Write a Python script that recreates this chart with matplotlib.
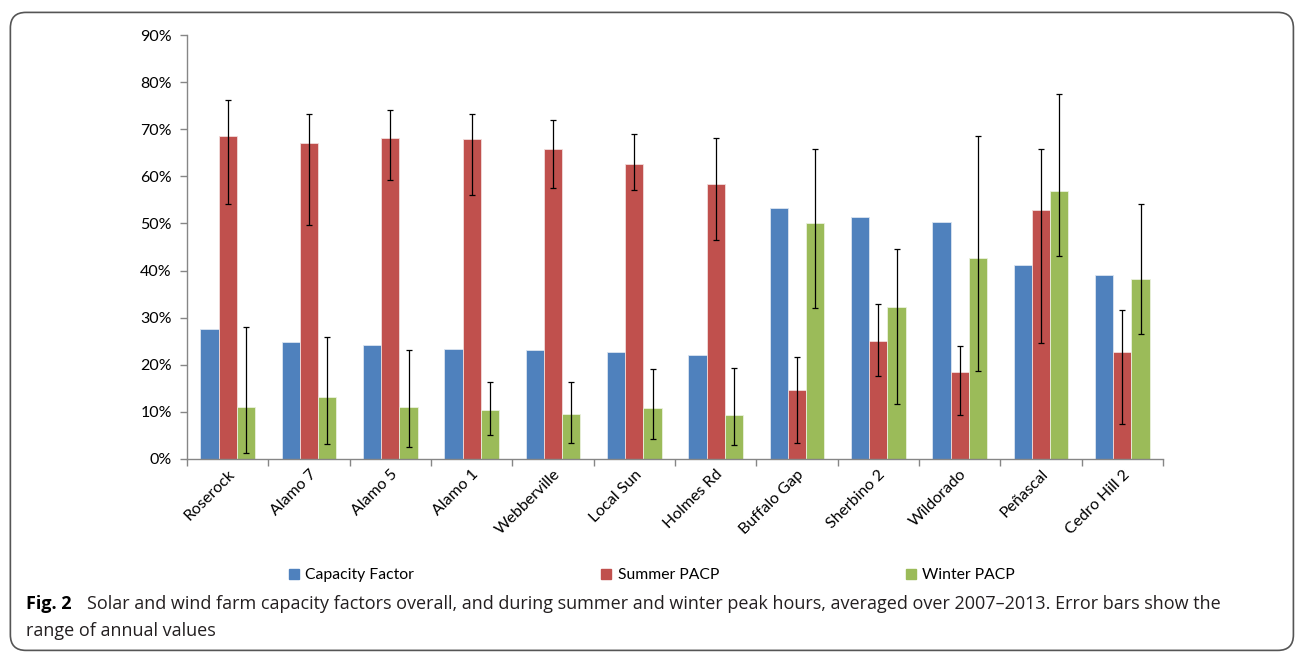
import matplotlib
matplotlib.use("Agg")
import matplotlib.pyplot as plt
from matplotlib.patches import FancyBboxPatch, Patch
from matplotlib.ticker import PercentFormatter
import numpy as np

plt.rcParams['font.family'] = ['Lato', 'DejaVu Sans']

farms = ["Roserock", "Alamo 7", "Alamo 5", "Alamo 1", "Webberville", "Local Sun",
         "Holmes Rd", "Buffalo Gap", "Sherbino 2", "Wildorado", "Peñascal", "Cedro Hill 2"]

# averages 2007-2013 (%)
capacity = [27.6, 24.9, 24.1, 23.4, 23.2, 22.8, 22.1, 53.2, 51.4, 50.4, 41.1, 39.1]
summer = [68.6, 67.0, 68.2, 67.9, 65.7, 62.6, 58.3, 14.6, 25.0, 18.4, 52.9, 22.8]
winter = [11.1, 13.2, 11.0, 10.5, 9.5, 10.9, 9.3, 50.0, 32.3, 42.6, 56.8, 38.2]

# range of annual values (min, max)
summer_min = [54.1, 49.7, 59.2, 56.0, 57.5, 57.0, 46.4, 3.3, 17.6, 9.3, 24.7, 7.5]
summer_max = [76.1, 73.2, 74.1, 73.3, 72.0, 69.0, 68.1, 21.7, 33.0, 23.9, 65.7, 31.7]
winter_min = [1.3, 3.1, 2.5, 5.1, 3.5, 4.3, 2.9, 32.0, 11.6, 18.6, 43.0, 26.6]
winter_max = [28.1, 25.8, 23.1, 16.3, 16.4, 19.1, 19.3, 65.7, 44.5, 68.6, 77.5, 54.1]

blue = "#4F81BD"
red = "#C0504D"
green = "#9BBB59"

fig = plt.figure(figsize=(12.96, 6.53), dpi=100)
ax = fig.add_axes([0.1443, 0.2971, 0.7531, 0.6493])

x = np.arange(len(farms))
w = 0.224

summer = np.array(summer)
winter = np.array(winter)
s_err = [summer - np.array(summer_min), np.array(summer_max) - summer]
w_err = [winter - np.array(winter_min), np.array(winter_max) - winter]

ekw = dict(ecolor="black", elinewidth=0.9, capsize=2.5, capthick=0.9)
ax.bar(x - w, capacity, w, color=blue, edgecolor="#dbe5f1", linewidth=0.6)
ax.bar(x, summer, w, color=red, edgecolor="#f2dcdb", linewidth=0.6,
       yerr=s_err, error_kw=ekw)
ax.bar(x + w, winter, w, color=green, edgecolor="#ebf1de", linewidth=0.6,
       yerr=w_err, error_kw=ekw)

ax.set_xlim(-0.5, len(farms) - 0.5)
ax.set_ylim(0, 90)
ax.set_yticks(np.arange(0, 91, 10))
ax.yaxis.set_major_formatter(PercentFormatter(decimals=0))

ax.set_xticks(x)
ax.set_xticklabels(farms, rotation=45, ha="right", rotation_mode="anchor", fontsize=11.5)
ax.set_xticks(np.arange(-0.5, len(farms), 1), minor=True)
ax.tick_params(axis="x", which="major", length=0, pad=6)
ax.tick_params(axis="x", which="minor", length=5, color="#868686", width=1)
ax.tick_params(axis="y", length=5, color="#868686", width=1, labelsize=11.5, pad=6)

for s in ["top", "right"]:
    ax.spines[s].set_visible(False)
for s in ["left", "bottom"]:
    ax.spines[s].set_color("#868686")
    ax.spines[s].set_linewidth(1)

handles = [Patch(color=blue), Patch(color=red), Patch(color=green)]
fig.legend(handles, ["Capacity Factor", "Summer PACP", "Winter PACP"],
           loc="center", bbox_to_anchor=(0.503, 0.119), ncol=3, frameon=False,
           fontsize=11.3, handlelength=0.65, handleheight=0.65, handletextpad=0.4,
           columnspacing=11.9)

# caption
cap_font = ['Open Sans', 'DejaVu Sans']
fig.text(0.020, 0.075, "Fig. 2", fontsize=13, fontweight="bold",
         family=cap_font, va="center")
fig.text(0.067, 0.075,
         "Solar and wind farm capacity factors overall, and during summer and winter peak hours, "
         "averaged over 2007\u20132013. Error bars show the",
         fontsize=13, family=cap_font, va="center", color="#231f20")
fig.text(0.020, 0.034, "range of annual values", fontsize=13, family=cap_font,
         va="center", color="#231f20")

# rounded frame
frame = FancyBboxPatch((0.008, 0.004), 0.990, 0.977, transform=fig.transFigure,
                       boxstyle="round,pad=0,rounding_size=0.012",
                       facecolor="none", edgecolor="#555555", linewidth=1.2,
                       mutation_aspect=1296 / 653)
fig.patches.append(frame)

fig.savefig("out.png", dpi=100)
